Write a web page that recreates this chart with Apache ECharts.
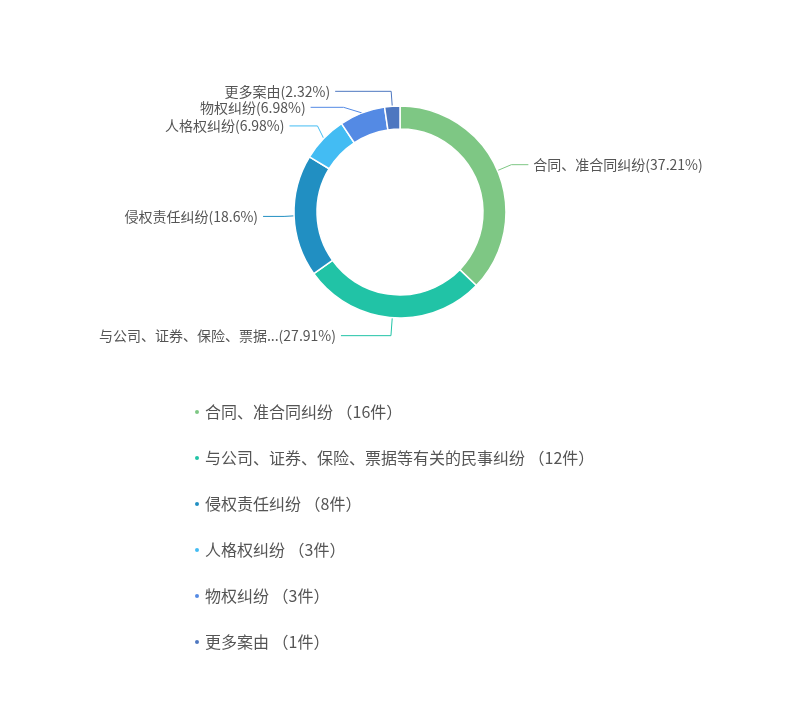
<!DOCTYPE html>
<html>
<head>
<meta charset="utf-8">
<script src="https://cdn.jsdelivr.net/npm/echarts@6/dist/echarts.min.js"></script>
<style>
html,body{margin:0;padding:0;background:#fff;}
#main{width:800px;height:706px;}
</style>
</head>
<body>
<div id="main"></div>
<script>
var categories = ['合同、准合同纠纷', '与公司、证券、保险、票据等有关的民事纠纷', '侵权责任纠纷', '人格权纠纷', '物权纠纷', '更多案由'];
var counts = [16, 12, 8, 3, 3, 1];
var colors = ['#7ec784', '#21c3a6', '#218fc2', '#43bcf3', '#548ae4', '#4e77c0'];
// label guide-line lengths per slice (style only)
var lineLen = [15, 18, 15, 18, 15, 15];
var lineLen2 = [17, 50, 21, 28, 33, 56];

var data = categories.map(function (c, i) {
  return { name: c, value: counts[i], labelLine: { length: lineLen[i], length2: lineLen2[i] } };
});
var chart = echarts.init(document.getElementById('main'));
chart.setOption({
  color: colors,
  legend: {
    orient: 'vertical',
    left: 188,
    top: 399,
    icon: 'circle',
    itemWidth: 6,
    itemHeight: 6,
    itemGap: 30,
    textStyle: { fontSize: 16, color: '#555', lineHeight: 16, fontFamily: 'Noto Sans CJK SC' },
    formatter: function (name) {
      var i = categories.indexOf(name);
      return name + ' （' + counts[i] + '件）';
    },
    data: categories
  },
  series: [{
    type: 'pie',
    center: [400, 212],
    radius: [83, 106],
    avoidLabelOverlap: true,
    itemStyle: { borderColor: '#fff', borderWidth: 1.5 },
    label: {
      color: '#555',
      fontSize: 14,
      fontFamily: 'Noto Sans CJK SC',
      formatter: function (p) {
        var n = p.name.length > 12 ? p.name.slice(0, 12) + '...' : p.name;
        return n + '(' + p.percent + '%)';
      }
    },
    data: data
  }]
});
</script>
</body>
</html>
